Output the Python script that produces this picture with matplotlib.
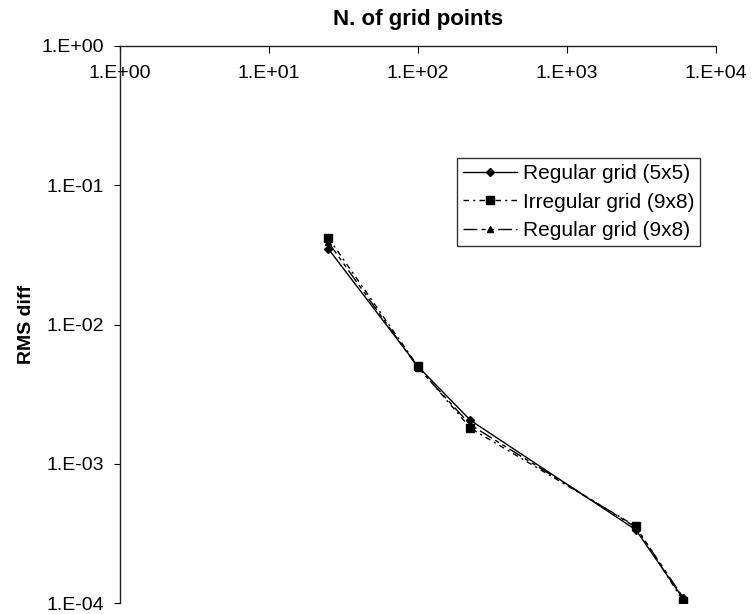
import math
import matplotlib
matplotlib.use("Agg")
import matplotlib.pyplot as plt
from matplotlib.ticker import FuncFormatter, LogLocator, NullLocator

plt.rcParams['font.family'] = ['Liberation Sans', 'DejaVu Sans']

# Number of grid points used for each refinement level
grid_points = [25, 100, 225, 2900, 6000]

# RMS differences for each configuration
rms_regular_5x5 = [0.035, 0.0050, 0.00205, 3.35e-4, 1.08e-4]
rms_irregular_9x8 = [0.042, 0.0050, 0.00180, 3.55e-4, 1.04e-4]
rms_regular_9x8 = [0.039, 0.0049, 0.00190, 3.50e-4, 1.10e-4]

series_labels = ["Regular grid (5x5)", "Irregular grid (9x8)", "Regular grid (9x8)"]

fig = plt.figure(figsize=(7.52, 6.14), dpi=100)
ax = fig.add_axes([120 / 752, 1 - 603 / 614, (716 - 120) / 752, (603 - 46) / 614])

ax.plot(grid_points, rms_regular_5x5, color='black', lw=1.0, ls='-',
        marker='D', ms=4.5, label=series_labels[0])
ax.plot(grid_points, rms_irregular_9x8, color='black', lw=1.0,
        ls=(0, (4, 3, 1.5, 3)), marker='s', ms=5.5, label=series_labels[1])
ax.plot(grid_points, rms_regular_9x8, color='black', lw=1.0,
        ls=(0, (10, 3, 3, 3, 3, 3)), marker='^', ms=5, label=series_labels[2])

ax.set_xscale('log')
ax.set_yscale('log')
ax.set_xlim(1, 1e4)
ax.set_ylim(1e-4, 1)

fmt = FuncFormatter(lambda v, pos: "1.E{:+03d}".format(int(round(math.log10(v)))))
ax.xaxis.set_major_locator(LogLocator(base=10, numticks=10))
ax.yaxis.set_major_locator(LogLocator(base=10, numticks=10))
ax.xaxis.set_minor_locator(NullLocator())
ax.yaxis.set_minor_locator(NullLocator())
ax.xaxis.set_major_formatter(fmt)
ax.yaxis.set_major_formatter(fmt)

for side in ('right', 'bottom'):
    ax.spines[side].set_visible(False)
for side in ('left', 'top'):
    ax.spines[side].set_color('#222222')
    ax.spines[side].set_linewidth(1.0)

ax.xaxis.tick_top()
ax.tick_params(axis='x', which='major', top=True, bottom=False, labeltop=True,
               labelbottom=False, direction='in', length=5, pad=-26,
               labelsize=14, colors='black')
ax.tick_params(axis='y', which='major', direction='out', length=4.5, pad=7,
               labelsize=14, colors='black')

ax.set_ylabel("RMS diff", fontsize=14, fontweight='bold')
ax.yaxis.set_label_coords(-(120 - 35) / 596, 0.5)
fig.text((120 + 716) / 2 / 752, 1 - 20 / 614, "N. of grid points",
         ha='center', va='center', fontsize=16, fontweight='bold')

leg = ax.legend(loc='upper left', bbox_to_anchor=(457 / 752, 1 - 158 / 614),
                bbox_transform=fig.transFigure, fontsize=15, frameon=True,
                fancybox=False, edgecolor='black', handlelength=2.6,
                borderpad=0.3, labelspacing=0.45, handletextpad=0.25,
                borderaxespad=0)
leg.get_frame().set_linewidth(1.0)

fig.savefig("out.png", dpi=100)
